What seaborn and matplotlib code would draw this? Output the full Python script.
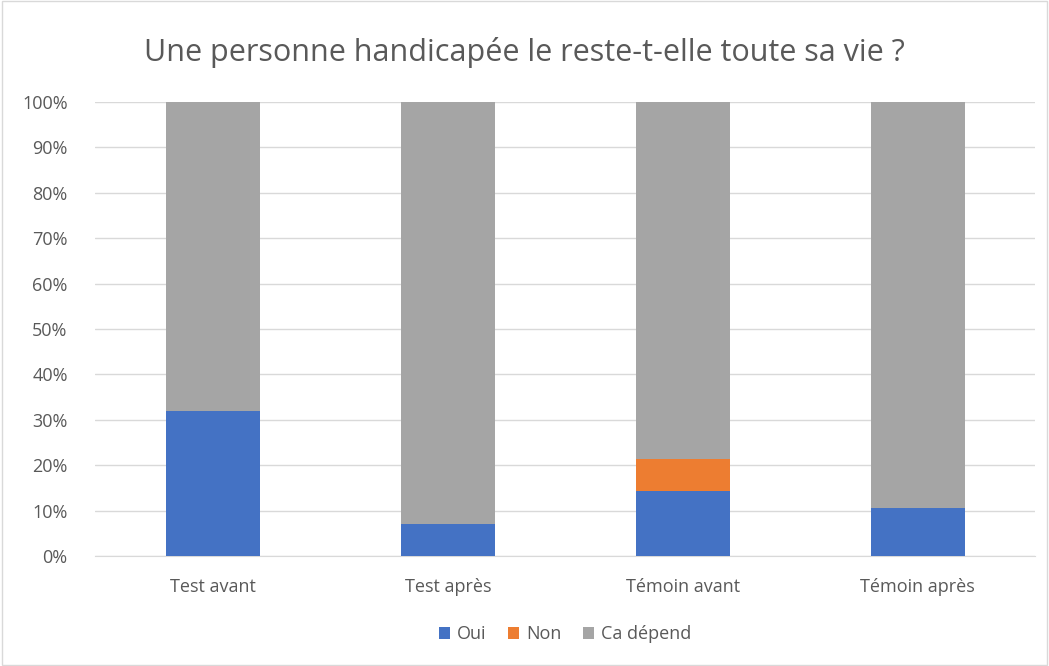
import matplotlib
matplotlib.use("Agg")
import matplotlib.pyplot as plt
import seaborn as sns
import pandas as pd
from matplotlib.patches import Rectangle
from matplotlib.ticker import PercentFormatter

categories = ["Test avant", "Test après", "Témoin avant", "Témoin après"]
oui = [32.0, 7.0, 14.3, 10.7]
non = [0.0, 0.0, 7.1, 0.0]
ca_depend = [100 - o - n for o, n in zip(oui, non)]
series = ["Oui", "Non", "Ca dépend"]
colors = ["#4472C4", "#ED7D31", "#A5A5A5"]

sns.set_style("white")
plt.rcParams["font.family"] = ["Open Sans", "DejaVu Sans"]

df = pd.DataFrame({"cat": categories, "Oui": oui, "Non": non, "Ca dépend": ca_depend})
df["c1"] = df["Oui"]
df["c2"] = df["Oui"] + df["Non"]
df["c3"] = df["c2"] + df["Ca dépend"]

fig = plt.figure(figsize=(10.49, 6.66), dpi=100)
fig.patches.append(Rectangle((0.002, 0.002), 0.996, 0.996, transform=fig.transFigure,
                             fill=False, edgecolor="#D9D9D9", linewidth=1))
ax = fig.add_axes([0.091, 0.165, 0.896, 0.682])

for col, name, color in zip(["c3", "c2", "c1"], series[::-1], colors[::-1]):
    sns.barplot(data=df, x="cat", y=col, color=color, width=0.4, ax=ax,
                saturation=1, label=name, zorder=3, linewidth=0)

ax.set_ylim(0, 100)
ax.set_xlim(-0.5, 3.5)
ax.set_yticks(range(0, 101, 10))
ax.yaxis.set_major_formatter(PercentFormatter(decimals=0))
ax.grid(axis="y", color="#D9D9D9", linewidth=1, zorder=0)
ax.set_xlabel("")
ax.set_ylabel("")
for s in ["top", "right", "left"]:
    ax.spines[s].set_visible(False)
ax.spines["bottom"].set_color("#D9D9D9")
ax.tick_params(axis="both", colors="#595959", labelsize=13, length=0)
ax.tick_params(axis="y", pad=20)
ax.tick_params(axis="x", pad=16)

fig.suptitle("Une personne handicapée le reste-t-elle toute sa vie ?", y=0.945,
             fontsize=22, color="#595959")

handles, labels = ax.get_legend_handles_labels()
order = {n: h for n, h in zip(labels, handles)}
ax.legend([order[n] for n in series], series, loc="center", bbox_to_anchor=(0.5, -0.172),
          ncol=3, frameon=False, fontsize=13, labelcolor="#595959",
          handlelength=0.6, handleheight=0.6, handletextpad=0.4, columnspacing=1.2)

fig.savefig("out.png", dpi=100)
